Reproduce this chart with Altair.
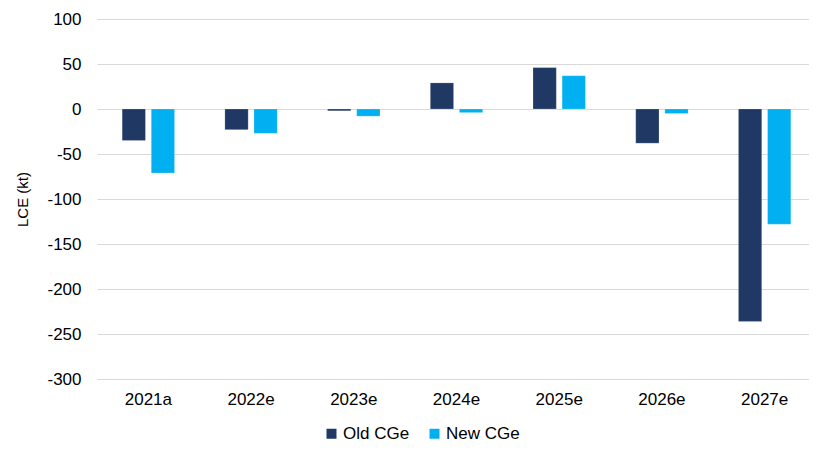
import altair as alt
import pandas as pd

years = ["2021a", "2022e", "2023e", "2024e", "2025e", "2026e", "2027e"]
old_cge = [-35, -23, -2, 29, 46, -38, -236]
new_cge = [-71, -27, -8, -4, 37, -5, -128]
series = ["Old CGe", "New CGe"]
colors = ["#1F3864", "#00B0F0"]
y_ticks = [-300, -250, -200, -150, -100, -50, 0, 50, 100]

rows = []
for y, o, n in zip(years, old_cge, new_cge):
    rows.append({"year": y, "series": series[0], "value": o})
    rows.append({"year": y, "series": series[1], "value": n})
df = pd.DataFrame(rows)

font = "Liberation Sans"

chart = alt.Chart(df).mark_bar(stroke="#ffffff", strokeWidth=0.5, strokeOpacity=0.4).encode(
    x=alt.X("year:N", sort=years, title=None,
            scale=alt.Scale(paddingInner=0.49, paddingOuter=0.245, range=[0, 719]),
            axis=alt.Axis(labelAngle=0, ticks=False, domain=False, labelPadding=12,
                          labelFontSize=17, labelColor="#000000", labelFont=font)),
    xOffset=alt.XOffset("series:N", sort=series, scale=alt.Scale(paddingInner=0.2)),
    y=alt.Y("value:Q", title="LCE (kt)",
            scale=alt.Scale(domain=[-300, 100], nice=False),
            axis=alt.Axis(values=y_ticks, ticks=False, domain=False,
                          labelExpr="toString(datum.value)",
                          gridColor="#D9D9D9", gridWidth=1, labelPadding=16,
                          labelFontSize=17, labelColor="#000000", labelFont=font,
                          titleFontSize=15, titleFont=font, titleFontWeight="normal",
                          titleColor="#000000", titlePadding=16)),
    color=alt.Color("series:N", sort=series,
                    scale=alt.Scale(domain=series, range=colors),
                    legend=alt.Legend(title=None, orient="none", direction="horizontal",
                                      legendX=226, legendY=406, symbolType="square",
                                      symbolSize=100, symbolStrokeWidth=0,
                                      labelFontSize=17, labelFont=font, labelColor="#000000",
                                      columnPadding=16, labelOffset=3)),
).properties(
    width=712, height=360,
    autosize=alt.AutoSizeParams(type="none"),
    padding={"left": 89, "top": 11, "right": 0, "bottom": 66},
).configure_view(stroke=None)

chart.save("out.html", embed_options={"renderer": "svg", "actions": False})
